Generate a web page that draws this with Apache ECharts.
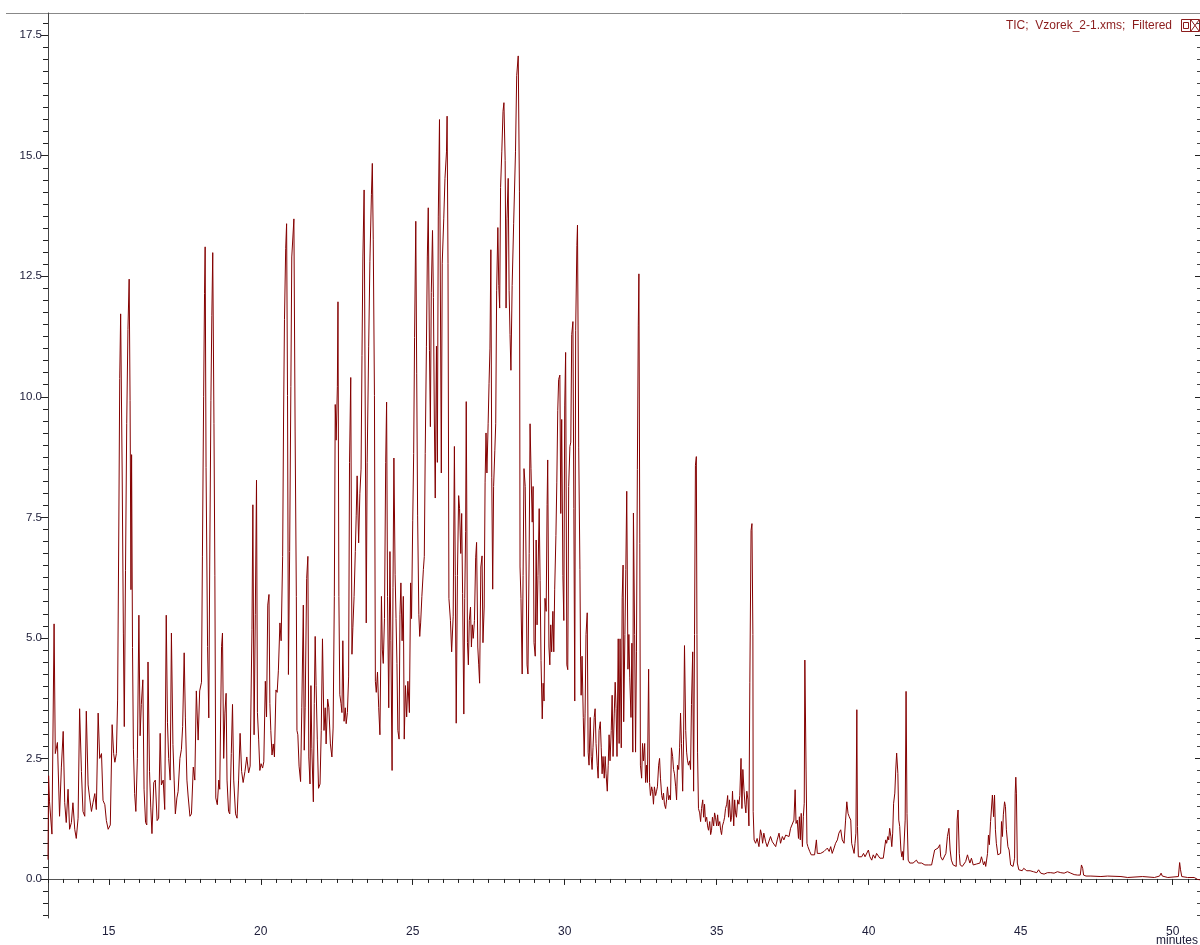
<!DOCTYPE html>
<html>
<head>
<meta charset="utf-8">
<title>TIC Vzorek_2-1</title>
<script src="https://cdn.jsdelivr.net/npm/echarts@6/dist/echarts.min.js"></script>
<style>
  html, body { margin: 0; padding: 0; background: #fff; }
  #chart { width: 1200px; height: 945px; }
</style>
</head>
<body>
<div id="chart"></div>
<script>
// TIC trace, [minutes, intensity], split by time range
var tic13_19 = [
  [13.00,0.4],[13.02,2.14],[13.05,1.6],[13.13,0.93],[13.20,5.29],[13.24,2.6],[13.31,2.83],[13.38,1.3],
  [13.44,2.32],[13.50,3.06],[13.55,1.58],[13.60,1.17],[13.66,1.86],[13.71,1.03],[13.77,1.17],[13.82,1.58],
  [13.88,1.03],[13.93,0.84],[13.99,1.26],[14.04,3.53],[14.10,2.23],[14.15,1.4],[14.21,1.3],[14.26,3.48],
  [14.32,1.95],[14.37,1.68],[14.43,1.4],[14.48,1.58],[14.54,1.77],[14.59,1.44],[14.65,3.44],[14.70,2.5],
  [14.76,2.6],[14.81,1.63],[14.87,1.54],[14.92,1.21],[14.98,1.03],[15.05,1.12],[15.11,3.2],[15.16,2.6],
  [15.20,2.42],[15.25,2.6],[15.29,3.71],[15.33,7.32],[15.36,10.38],[15.39,11.72],[15.44,8.44],[15.48,5.1],
  [15.51,3.16],[15.55,6.4],[15.59,9.45],[15.63,11.4],[15.67,12.44],[15.70,9.92],[15.73,6.0],[15.75,8.8],
  [15.78,4.8],[15.81,2.69],[15.85,1.77],[15.89,1.4],[15.94,2.5],[15.99,5.47],[16.03,2.97],[16.07,3.62],
  [16.12,4.13],[16.16,1.86],[16.21,1.17],[16.25,1.12],[16.29,4.5],[16.34,2.23],[16.38,1.49],[16.42,0.94],
  [16.48,2.0],[16.53,2.05],[16.59,1.21],[16.64,1.26],[16.69,3.02],[16.73,1.95],[16.79,2.05],[16.84,1.44],
  [16.89,5.47],[16.93,3.25],[16.97,2.5],[17.02,2.05],[17.06,5.1],[17.11,2.79],[17.15,2.05],[17.19,1.35],
  [17.24,1.68],[17.28,1.81],[17.34,2.5],[17.39,2.69],[17.43,3.16],[17.48,4.69],[17.52,3.34],[17.57,2.05],
  [17.61,1.72],[17.67,1.3],[17.72,1.35],[17.78,2.32],[17.83,2.05],[17.88,3.9],[17.94,2.88],[17.99,3.9],
  [18.05,4.08],[18.08,6.68],[18.12,10.0],[18.15,12.14],[18.17,13.11],[18.20,8.53],[18.25,4.82],[18.29,3.34],
  [18.32,6.49],[18.36,9.92],[18.39,11.68],[18.42,12.99],[18.46,9.45],[18.49,6.3],[18.52,1.68],[18.57,1.54],
  [18.62,2.05],[18.65,1.86],[18.71,4.82],[18.74,5.1],[18.78,2.5],[18.82,3.44],[18.86,3.85],[18.89,2.05],
  [18.94,1.4],[18.98,1.35],[19.03,2.6],[19.07,3.62],[19.11,2.05],[19.17,1.35],[19.22,1.26],[19.27,2.05],
  [19.32,3.02],[19.37,2.23],[19.42,2.0],[19.48,2.23]
];
var tic19_26 = [
  [19.54,2.53],[19.60,2.2],[19.65,2.34],[19.71,5.17],[19.74,7.76],[19.78,2.99],[19.82,5.49],[19.86,8.27],
  [19.89,3.45],[19.93,2.9],[19.97,2.25],[20.01,2.39],[20.06,2.3],[20.10,2.43],[20.15,4.1],[20.19,3.36],
  [20.23,5.68],[20.27,5.9],[20.30,3.64],[20.33,3.08],[20.37,2.57],[20.41,2.8],[20.45,2.53],[20.50,3.92],
  [20.54,3.87],[20.58,4.33],[20.63,5.31],[20.67,4.94],[20.72,6.69],[20.75,9.56],[20.78,11.6],[20.82,13.08],
  [20.85,13.59],[20.88,10.03],[20.91,4.24],[20.95,6.79],[20.99,10.21],[21.02,12.9],[21.09,13.69],[21.13,9.29],
  [21.17,5.86],[21.19,3.08],[21.22,2.99],[21.26,2.34],[21.31,2.02],[21.35,3.55],[21.40,5.68],[21.43,2.67],
  [21.46,3.55],[21.51,6.23],[21.55,6.69],[21.58,2.53],[21.62,1.97],[21.65,4.01],[21.68,2.71],[21.73,1.6],
  [21.76,3.64],[21.79,5.03],[21.82,4.01],[21.86,2.9],[21.90,1.88],[21.95,1.97],[21.99,3.08],[22.03,4.98],
  [22.08,3.08],[22.12,3.55],[22.15,2.8],[22.20,3.73],[22.24,3.55],[22.29,2.8],[22.34,2.53],[22.38,3.13],
  [22.42,5.86],[22.45,9.84],[22.48,9.1],[22.52,10.21],[22.54,11.97],[22.57,5.86],[22.60,3.82],[22.64,3.64],
  [22.67,3.45],[22.70,4.94],[22.74,3.27],[22.78,3.55],[22.81,3.22],[22.85,3.45],[22.89,4.19],[22.92,8.64],
  [22.96,10.4],[23.00,4.66],[23.03,5.21],[23.07,5.86],[23.11,6.79],[23.14,7.53],[23.17,8.36],[23.22,6.97],
  [23.26,7.99],[23.30,8.5],[23.33,10.86],[23.36,12.9],[23.40,14.29],[23.44,9.29],[23.47,5.31],[23.50,8.64],
  [23.55,11.05],[23.59,12.8],[23.64,14.19],[23.67,14.84],[23.70,13.27],[23.74,10.03],[23.77,4.1],[23.80,3.87],
  [23.84,4.29],[23.88,3.55],[23.92,2.99],[23.97,5.86],[24.00,4.75],[24.03,4.47],[24.07,5.4],[24.11,8.64],
  [24.14,9.89],[24.17,5.86],[24.21,3.55],[24.25,6.79],[24.28,4.94],[24.32,2.25],[24.35,6.05],[24.38,8.73],
  [24.42,6.32],[24.45,5.4],[24.48,4.47],[24.51,3.08],[24.55,2.9],[24.58,5.49],[24.61,6.14],[24.65,4.94],
  [24.69,5.86],[24.72,2.9],[24.76,4.01],[24.80,3.36],[24.84,4.1],[24.89,3.45],[24.93,6.14],[24.96,5.4],
  [25.00,7.44],[25.03,8.82],[25.06,11.23],[25.10,13.64],[25.13,10.49],[25.16,7.53],[25.20,5.49],[25.23,5.03],
  [25.26,5.31],[25.30,5.86],[25.35,6.42],[25.38,6.69],[25.41,8.82],[25.45,11.05],[25.48,12.9],[25.51,13.92],
  [25.55,10.96],[25.58,9.38],[25.61,12.16],[25.65,13.45],[25.68,12.06],[25.71,9.56],[25.74,7.9],[25.78,11.05],
  [25.81,8.64],[25.84,13.73],[25.88,15.75]
];
var tic26_30 = [
  [25.94,8.42],[25.97,12.77],[26.02,13.69],[26.06,14.53],[26.11,15.08],[26.13,15.82],[26.16,12.77],[26.19,5.82],
  [26.24,5.36],[26.28,4.71],[26.33,5.45],[26.37,8.97],[26.40,6.29],[26.43,3.23],[26.47,6.29],[26.51,7.95],
  [26.54,7.68],[26.58,6.75],[26.61,7.58],[26.64,5.92],[26.68,3.42],[26.71,5.82],[26.74,7.21],[26.76,9.9],
  [26.80,4.9],[26.83,4.44],[26.86,5.36],[26.90,5.64],[26.93,4.81],[26.96,5.27],[26.99,4.99],[27.03,5.36],
  [27.07,6.66],[27.10,6.98],[27.14,4.81],[27.17,4.44],[27.20,4.06],[27.24,6.47],[27.28,6.7],[27.31,4.9],
  [27.35,5.64],[27.38,8.23],[27.41,9.25],[27.44,8.42],[27.48,9.44],[27.51,10.27],[27.54,11.01],[27.57,13.05],
  [27.60,8.32],[27.63,6.01],[27.66,8.14],[27.70,8.88],[27.73,9.44],[27.76,12.21],[27.80,13.51],[27.83,12.31],
  [27.86,11.84],[27.89,14.34],[27.93,15.08],[27.97,15.92],[28.00,16.1],[28.04,14.9],[28.07,11.84],[28.10,13.69],
  [28.14,14.53],[28.17,12.21],[28.20,11.29],[28.23,10.55],[28.27,12.31],[28.32,13.6],[28.38,15.08],[28.42,16.66],
  [28.47,17.07],[28.51,14.25],[28.53,6.47],[28.56,5.82],[28.60,4.25],[28.63,6.29],[28.66,8.51],[28.70,8.14],
  [28.73,6.47],[28.76,4.44],[28.79,4.25],[28.83,6.75],[28.86,9.44],[28.89,8.51],[28.93,7.4],[28.96,8.14],
  [28.99,4.9],[29.03,4.62],[29.06,7.03],[29.09,5.27],[29.12,6.29],[29.16,7.68],[29.19,6.19],[29.22,4.53],
  [29.26,3.32],[29.29,4.06],[29.32,3.69],[29.35,5.82],[29.39,5.55],[29.42,7.77],[29.44,8.69],[29.48,4.81],
  [29.51,4.44],[29.54,5.27],[29.57,4.71],[29.61,5.55],[29.64,4.71],[29.67,6.01],[29.71,7.12],[29.74,8.23],
  [29.77,9.71],[29.80,10.36],[29.84,10.45],[29.87,7.58],[29.90,9.53],[29.94,6.29],[29.97,5.36],[30.00,9.81],
  [30.03,10.92],[30.07,4.44],[30.10,4.34],[30.13,8.14],[30.17,8.97],[30.20,9.06],[30.23,11.29],[30.27,11.56],
  [30.30,7.68],[30.33,3.69],[30.36,11.38],[30.40,13.14],[30.42,13.56]
];
var tic30_36 = [
  [30.46,8.94],[30.50,6.42],[30.52,4.62],[30.54,3.81],[30.57,4.62],[30.61,3.35],[30.64,2.54],[30.67,3.44],
  [30.70,5.07],[30.74,5.52],[30.77,2.63],[30.80,2.36],[30.84,3.35],[30.87,2.54],[30.90,2.27],[30.93,2.72],
  [30.97,3.35],[31.00,3.53],[31.03,2.81],[31.07,2.36],[31.10,2.09],[31.13,3.08],[31.17,3.26],[31.20,2.72],
  [31.23,2.18],[31.26,2.54],[31.30,2.09],[31.33,2.54],[31.36,2.18],[31.40,1.82],[31.43,2.36],[31.46,2.99],
  [31.49,2.45],[31.53,3.08],[31.56,3.81],[31.59,2.54],[31.63,3.44],[31.66,4.08],[31.69,3.53],[31.72,2.54],
  [31.76,4.98],[31.79,2.81],[31.82,4.98],[31.86,2.72],[31.89,5.83],[31.92,6.51],[31.94,3.26],[31.98,5.07],
  [32.01,6.42],[32.04,8.04],[32.08,4.35],[32.11,5.07],[32.14,4.17],[32.18,3.35],[32.21,4.89],[32.24,2.63],
  [32.26,7.59],[32.30,5.07],[32.33,2.63],[32.36,4.71],[32.39,8.49],[32.42,11.47],[32.44,12.55],[32.47,6.96],
  [32.49,2.36],[32.53,2.09],[32.56,2.81],[32.59,2.45],[32.63,2.81],[32.66,2.0],[32.69,2.36],[32.72,2.0],
  [32.76,4.35],[32.79,2.0],[32.82,1.73],[32.86,1.91],[32.89,1.82],[32.92,1.55],[32.95,1.91],[32.99,1.73],
  [33.02,1.82],[33.05,1.91],[33.09,2.36],[33.12,2.5],[33.15,2.09],[33.19,1.73],[33.22,1.64],[33.25,1.78],
  [33.28,1.55],[33.32,1.46],[33.35,1.64],[33.38,1.91],[33.42,1.64],[33.45,1.73],[33.48,1.64],[33.51,2.72],
  [33.55,2.54],[33.58,2.27],[33.61,2.18],[33.65,1.91],[33.68,1.64],[33.71,2.36],[33.75,2.27],[33.78,2.72],
  [33.81,3.44],[33.84,2.81],[33.88,1.82],[33.91,2.9],[33.94,4.84],[33.98,3.08],[34.01,2.63],[34.04,2.45],
  [34.07,2.36],[34.11,2.45],[34.14,2.27],[34.17,3.62],[34.21,4.71],[34.24,1.82],[34.27,5.07],[34.30,8.58],
  [34.33,8.76],[34.35,5.07],[34.37,2.63],[34.40,1.46],[34.44,1.37],[34.47,1.19],[34.50,1.46],[34.54,1.64],
  [34.57,1.28],[34.60,1.55],[34.63,1.19],[34.67,1.28],[34.70,1.1],[34.73,1.01],[34.77,1.19],[34.80,0.92],
  [34.83,1.01],[34.86,1.28],[34.90,1.1],[34.93,1.37],[34.96,1.28],[35.00,1.1],[35.03,1.33],[35.06,1.1],
  [35.10,1.19],[35.13,1.01],[35.16,0.92],[35.19,1.1],[35.23,1.19],[35.26,1.28],[35.29,1.46],[35.33,1.55],
  [35.36,1.73],[35.39,1.28],[35.42,1.64],[35.46,1.19],[35.49,1.28],[35.52,1.82],[35.56,1.1],[35.59,1.64],
  [35.62,1.37],[35.65,1.28],[35.69,1.64],[35.73,1.55],[35.76,1.73],[35.80,2.5],[35.83,1.46],[35.86,2.27],
  [35.90,1.82],[35.93,1.55],[35.96,1.37],[35.99,1.82],[36.03,1.64],[36.06,1.1],[36.09,4.08],[36.13,7.23],
  [36.16,7.37],[36.19,5.07],[36.20,1.4]
];
var tic36_43 = [
  [36.23,0.81],[36.28,0.74],[36.33,0.84],[36.39,0.67],[36.44,1.02],[36.48,0.91],[36.51,0.74],[36.55,0.95],
  [36.61,0.77],[36.66,0.67],[36.72,0.64],[36.77,0.88],[36.83,0.77],[36.88,0.81],[36.94,0.67],[36.99,0.81],
  [37.05,0.95],[37.10,0.74],[37.16,0.88],[37.21,0.81],[37.27,0.91],[37.32,0.95],[37.38,0.88],[37.43,1.05],
  [37.49,1.02],[37.54,1.22],[37.58,1.85],[37.61,1.15],[37.65,1.22],[37.69,0.84],[37.72,1.29],[37.75,0.81],
  [37.78,1.36],[37.82,0.67],[37.85,1.29],[37.88,1.57],[37.90,4.54],[37.94,2.26],[37.97,0.74],[38.00,0.67],
  [38.06,0.57],[38.11,0.5],[38.17,0.53],[38.22,0.5],[38.28,0.81],[38.31,0.53],[38.37,0.5],[38.42,0.53],
  [38.48,0.5],[38.53,0.57],[38.59,0.53],[38.64,0.64],[38.70,0.57],[38.75,0.67],[38.80,0.53],[38.86,0.64],
  [38.91,0.74],[38.97,0.81],[39.02,0.95],[39.08,1.02],[39.13,0.81],[39.19,0.74],[39.24,1.22],[39.28,1.6],
  [39.32,1.36],[39.36,1.29],[39.41,1.22],[39.44,0.74],[39.49,0.77],[39.52,0.53],[39.55,0.74],[39.58,0.95],
  [39.61,3.51],[39.63,1.09],[39.66,0.46],[39.72,0.5],[39.77,0.46],[39.83,0.53],[39.88,0.46],[39.94,0.43],
  [39.99,0.6],[40.04,0.46],[40.10,0.39],[40.15,0.5],[40.21,0.43],[40.26,0.53],[40.32,0.5],[40.37,0.43],
  [40.43,0.46],[40.48,0.43],[40.53,0.46],[40.56,0.81],[40.59,0.74],[40.63,0.88],[40.66,0.81],[40.69,1.05],
  [40.73,0.88],[40.76,0.67],[40.79,0.95],[40.82,1.57],[40.86,1.78],[40.89,2.26],[40.92,2.61],[40.96,2.19],
  [40.99,1.22],[41.02,1.09],[41.06,0.6],[41.09,0.46],[41.12,0.57],[41.14,0.39],[41.20,1.22],[41.23,3.89],
  [41.26,1.36],[41.30,0.39],[41.35,0.33],[41.41,0.36],[41.46,0.33],[41.52,0.36],[41.57,0.39],[41.63,0.33],
  [41.68,0.36],[41.74,0.33],[41.79,0.31],[41.85,0.29],[41.90,0.29],[41.96,0.29],[42.01,0.33],[42.07,0.29],
  [42.12,0.33],[42.17,0.6],[42.23,0.57],[42.28,0.64],[42.34,0.71],[42.37,0.46],[42.43,0.39],[42.48,0.36],
  [42.54,0.53],[42.59,0.88],[42.64,1.05],[42.68,0.6],[42.72,0.39],[42.78,0.29],[42.83,0.26],[42.88,0.26],
  [42.91,1.22],[42.94,1.43],[42.98,0.53],[43.01,0.29]
];
var tic43_51 = [
  [43.08,0.26],[43.14,0.29],[43.19,0.36],[43.25,0.5],[43.28,0.43],[43.33,0.33],[43.38,0.43],[43.44,0.29],
  [43.49,0.29],[43.55,0.31],[43.60,0.33],[43.66,0.33],[43.71,0.46],[43.74,0.39],[43.78,0.29],[43.82,0.36],
  [43.85,0.26],[43.91,0.53],[43.94,0.91],[43.97,0.71],[44.01,1.19],[44.04,1.15],[44.07,1.74],[44.11,1.29],
  [44.14,1.74],[44.17,1.02],[44.20,0.74],[44.25,0.5],[44.29,0.46],[44.34,0.53],[44.37,1.19],[44.40,0.88],
  [44.43,1.33],[44.47,1.6],[44.50,1.5],[44.53,1.02],[44.58,0.67],[44.62,0.6],[44.67,0.29],[44.71,0.26],
  [44.75,0.26],[44.80,0.43],[44.82,1.78],[44.84,2.11],[44.86,1.78],[44.89,0.33],[44.94,0.19],[44.99,0.17],
  [45.05,0.17],[45.10,0.22],[45.15,0.19],[45.20,0.17],[45.26,0.2],[45.31,0.17],[45.37,0.15],[45.42,0.15],
  [45.48,0.12],[45.53,0.13],[45.59,0.19],[45.66,0.12],[45.77,0.1],[45.88,0.13],[45.94,0.15],[45.99,0.13],
  [46.10,0.12],[46.21,0.15],[46.27,0.16],[46.32,0.13],[46.43,0.12],[46.54,0.15],[46.60,0.17],[46.65,0.12],
  [46.76,0.09],[46.87,0.08],[46.96,0.08],[47.00,0.29],[47.04,0.22],[47.07,0.08],[47.15,0.06],[47.31,0.06],
  [47.64,0.05],[47.86,0.06],[48.30,0.05],[48.52,0.03],[49.01,0.05],[49.40,0.03],[49.57,0.06],[49.62,0.12],
  [49.66,0.06],[49.84,0.03],[50.19,0.05],[50.23,0.34],[50.26,0.19],[50.30,0.05],[50.49,0.03],[50.71,0.03],
  [50.82,-0.01],[50.93,-0.02]
];

var yTicks = [0, 2.5, 5, 7.5, 10, 12.5, 15, 17.5];
var xTicks = [15, 20, 25, 30, 35, 40, 45, 50];
var yMinorStep = 0.25;
var xMinorStep = 0.5;
var xMin = 13.0, xMax = 50.9;
var yMin = -0.81, yMax = 17.96;

var traceData = tic13_19.concat(tic19_26, tic26_30, tic30_36, tic36_43, tic43_51);

// minor ticks between the labelled ones
function minorList(lo, hi, step, majors) {
  var out = [];
  var start = Math.ceil(lo / step) * step;
  for (var v = start; v <= hi + 1e-9; v += step) {
    var r = Math.round(v * 100) / 100;
    if (majors.indexOf(r) < 0) out.push(r);
  }
  return out;
}
var yMinor = minorList(yMin, yMax, yMinorStep, yTicks);
var xMinor = minorList(xMin, xMax, xMinorStep, xTicks);

var labelColor = '#20203c';
var traceColor = '#840000';
var legendColor = '#8b1c1c';

var chart = echarts.init(document.getElementById('chart'));
var option = {
  animation: false,
  backgroundColor: '#ffffff',
  grid: { left: 48, top: 13, right: 0, bottom: 27, containLabel: false },
  xAxis: [{
    type: 'value', min: xMin, max: xMax, position: 'bottom',
    axisLine: { show: true, lineStyle: { color: '#555', width: 1 } },
    axisTick: { show: true, customValues: xTicks, length: 6, lineStyle: { color: '#222' } },
    axisLabel: { customValues: xTicks, margin: 8, color: labelColor, fontSize: 12, fontFamily: 'Liberation Sans, Arial, sans-serif' },
    splitLine: { show: false }
  }, {
    type: 'value', min: xMin, max: xMax, position: 'bottom', offset: 0,
    axisLine: { show: false },
    axisTick: { show: true, customValues: xMinor, length: 4, lineStyle: { color: '#222' } },
    axisLabel: { show: false },
    splitLine: { show: false }
  }],
  yAxis: [{
    type: 'value', min: yMin, max: yMax, position: 'left',
    axisLine: { show: true, lineStyle: { color: '#444', width: 1 } },
    axisTick: { show: true, customValues: yTicks, length: 7, lineStyle: { color: '#222' } },
    axisLabel: { customValues: yTicks, margin: 6, color: labelColor, fontSize: 11.5, fontFamily: 'Liberation Sans, Arial, sans-serif',
      formatter: function (v) { return v.toFixed(1); } },
    splitLine: { show: false }
  }, {
    type: 'value', min: yMin, max: yMax, position: 'left', offset: 0,
    axisLine: { show: false },
    axisTick: { show: true, customValues: yMinor, length: 5, lineStyle: { color: '#222' } },
    axisLabel: { show: false },
    splitLine: { show: false }
  }, {
    type: 'value', min: yMin, max: yMax, position: 'right', offset: 0,
    axisLine: { show: false },
    axisTick: { show: true, inside: true, customValues: yTicks, length: 5, lineStyle: { color: '#222' } },
    axisLabel: { show: false },
    splitLine: { show: false }
  }, {
    type: 'value', min: yMin, max: yMax, position: 'right', offset: 0,
    axisLine: { show: false },
    axisTick: { show: true, inside: true, customValues: yMinor, length: 3, lineStyle: { color: '#444' } },
    axisLabel: { show: false },
    splitLine: { show: false }
  }],
  series: [{
    name: 'TIC',
    type: 'line',
    xAxisIndex: 0,
    yAxisIndex: 0,
    data: traceData,
    showSymbol: false,
    symbol: 'none',
    sampling: null,
    lineStyle: { color: traceColor, width: 1 },
    clip: true
  }],
  graphic: [
    // thin frame line across the top
    { type: 'line', shape: { x1: 6, y1: 13.5, x2: 1200, y2: 13.5 }, style: { stroke: '#888', lineWidth: 1 } },
    { type: 'text', style: { text: 'TIC;  Vzorek_2-1.xms;  Filtered', x: 1172, y: 25.5, align: 'right', verticalAlign: 'middle',
        fill: legendColor, font: '12px "Liberation Sans", Arial, sans-serif' } },
    // the little window buttons next to the trace name
    { type: 'rect', shape: { x: 1181.5, y: 19.5, width: 18, height: 12 }, style: { fill: 'none', stroke: legendColor, lineWidth: 1 } },
    { type: 'rect', shape: { x: 1183.5, y: 22.5, width: 5, height: 6 }, style: { fill: 'none', stroke: legendColor, lineWidth: 1 } },
    { type: 'line', shape: { x1: 1190.5, y1: 19.5, x2: 1190.5, y2: 31.5 }, style: { stroke: legendColor, lineWidth: 1 } },
    { type: 'line', shape: { x1: 1191, y1: 20, x2: 1199, y2: 31 }, style: { stroke: legendColor, lineWidth: 1 } },
    { type: 'line', shape: { x1: 1199, y1: 20, x2: 1191, y2: 31 }, style: { stroke: legendColor, lineWidth: 1 } },
    { type: 'text', style: { text: 'minutes', x: 1198, y: 941, align: 'right', verticalAlign: 'middle',
        fill: labelColor, font: '12px "Liberation Sans", Arial, sans-serif' } }
  ]
};
chart.setOption(option);
</script>
</body>
</html>
